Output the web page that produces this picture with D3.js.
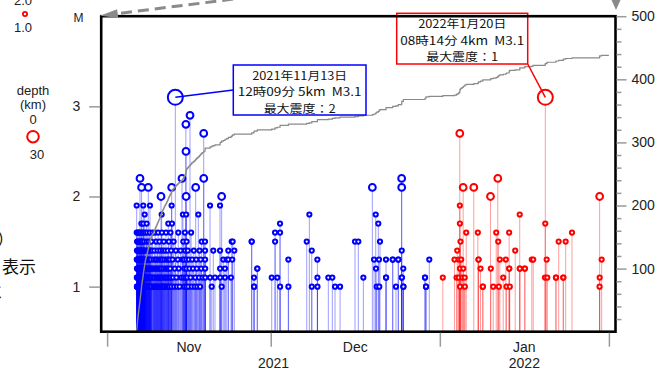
<!DOCTYPE html>
<html>
<head>
<meta charset="utf-8">
<script src="https://cdn.jsdelivr.net/npm/d3@7"></script>
<style>
  body { margin: 0; background: #fff; }
  svg { display: block; font-family: "Liberation Sans", Arial, sans-serif; }
</style>
</head>
<body>
<svg id="chart" width="661" height="370"></svg>
<script>
// Earthquake list: [day of month (decimal, local time), magnitude]
const novEvents = [
  [6.42,1.9],[6.43,1.6],[6.44,1.3],[6.45,1.1],[6.46,1.0],[6.47,1.4],[6.48,1.2],[6.49,1.5],[6.50,1.0],[6.51,1.1],
  [6.52,1.3],[6.53,1.2],[6.54,1.0],[6.55,1.6],[6.56,1.4],[6.57,1.1],[6.58,1.0],[6.59,1.2],[6.60,1.3],[6.62,1.0],
  [6.63,1.5],[6.64,1.1],[6.66,1.2],[6.67,1.0],[6.68,1.4],[6.70,1.1],[6.71,1.3],[6.72,1.0],[6.74,1.2],[6.75,1.6],
  [6.76,1.1],[6.78,1.0],[6.79,1.3],[6.80,1.2],[6.82,1.5],[6.83,1.0],[6.85,1.1],[6.86,1.4],[6.88,1.2],[6.89,1.0],
  [6.91,1.3],[6.92,1.1],[6.94,1.6],[6.95,1.0],[6.97,1.2],[6.98,1.4],[7.00,1.1],[7.01,1.0],[7.03,2.2],[7.04,1.3],
  [7.05,1.5],[7.06,1.2],[7.08,1.0],[7.09,1.1],[7.10,1.4],[7.12,1.3],[7.13,1.0],[7.14,1.6],[7.16,1.2],[7.17,1.1],
  [7.18,1.0],[7.20,1.5],[7.21,1.3],[7.22,1.2],[7.24,1.0],[7.25,1.4],[7.26,1.1],[7.28,1.7],[7.29,1.2],[7.30,1.0],
  [7.31,1.3],[7.32,2.1],[7.33,1.1],[7.34,1.5],
  [7.36,1.2],[7.38,1.0],[7.40,1.4],[7.41,1.1],[7.43,1.3],[7.45,1.6],[7.46,1.0],[7.48,1.2],[7.50,1.1],[7.52,1.5],
  [7.53,1.0],[7.55,1.3],[7.57,1.2],[7.58,1.4],[7.60,1.0],[7.62,1.1],[7.63,1.9],[7.64,1.7],[7.65,1.3],[7.67,1.0],
  [7.69,1.2],[7.70,1.6],[7.72,1.1],[7.74,1.4],[7.76,1.0],[7.78,1.3],[7.80,1.2],[7.81,1.5],[7.83,1.0],[7.85,1.1],
  [7.87,1.3],[7.89,1.8],[7.90,1.2],[7.92,1.0],[7.94,1.4],[7.96,1.1],[7.98,1.6],[8.00,1.2],[8.02,1.0],[8.04,1.3],
  [8.06,1.1],
  [8.10,1.2],[8.13,1.0],[8.16,1.4],[8.19,1.1],[8.22,1.3],[8.25,1.7],[8.26,1.5],[8.29,1.0],[8.32,1.2],[8.35,1.6],
  [8.38,1.1],[8.41,1.3],[8.44,1.0],[8.47,1.4],[8.50,1.2],[8.53,1.1],[8.55,2.1],[8.58,1.0],[8.61,1.3],[8.64,1.5],
  [8.67,1.2],[8.70,1.0],[8.73,1.4],[8.76,1.1],[8.79,1.3],[8.82,1.6],[8.85,1.0],[8.86,1.9],[8.89,1.2],[8.92,1.1],
  [8.95,1.4],[8.98,1.0],[9.02,1.3],[9.06,1.2],[9.10,1.5],[9.14,1.1],[9.18,1.0],[9.23,1.4],[9.28,1.2],[9.34,1.6],
  [9.45,1.1],[9.50,1.3],[9.55,1.0],[9.60,1.2],[9.65,1.4],[9.70,1.1],[9.75,1.0],[9.80,1.6],[9.85,1.3],[9.90,1.2],
  [9.95,1.0],[10.00,1.5],[10.05,1.1],[10.10,1.3],[10.15,1.2],[10.20,1.0],[10.25,1.4],[10.30,1.1],[10.35,1.6],[10.40,1.2],
  [10.45,1.0],[10.50,1.3],[10.55,1.1],[10.60,1.5],[10.65,1.2],[10.70,1.0],[10.75,1.4],[10.80,1.1],[10.85,1.3],[10.88,2.0],
  [10.92,1.2],[10.96,1.0],[11.00,1.8],[11.04,1.6],[11.08,1.1],[11.12,1.3],[11.17,1.0],[11.22,1.4],
  [11.30,1.2],[11.35,1.0],[11.40,1.5],[11.45,1.1],[11.50,1.3],[11.56,1.0],[11.62,1.4],[11.68,1.2],[11.74,1.1],[11.80,1.6],
  [11.86,1.0],[11.92,1.3],[11.98,1.2],[12.04,1.1],[12.10,1.4],[12.16,1.0],[12.20,1.3],[12.22,1.7],[12.26,1.2],[12.32,1.5],
  [12.38,1.1],[12.44,1.0],[12.50,1.3],[12.56,1.2],[12.62,1.6],[12.68,1.1],[12.74,1.4],[12.80,1.0],[12.83,1.9],[12.84,2.1],
  [12.90,1.7],[13.00,1.3],[13.10,1.1],[13.20,1.5],[13.30,1.0],[13.40,1.2],[13.506,3.1],[13.60,1.4],[13.70,1.1],[13.80,1.0],
  [13.95,1.3],[14.05,1.6],[14.15,1.2],[14.30,1.0],[14.45,1.4],[14.60,1.1],[14.73,2.2],[14.80,1.3],[14.90,1.8],
  [14.97,1.5],[15.02,1.1],[15.08,1.3],[15.14,1.0],[15.20,1.2],[15.26,1.6],[15.32,1.4],[15.38,1.1],[15.44,2.8],[15.46,2.5],
  [15.48,2.0],[15.50,1.8],[15.52,1.0],[15.54,1.3],[15.56,1.2],[15.58,1.5],
  [15.70,1.1],[15.80,1.4],[15.90,1.0],[16.00,1.3],[16.10,1.2],[16.20,2.9],[16.30,1.1],[16.40,1.6],[16.51,1.0],[16.60,1.3],
  [16.75,1.2],[16.90,1.4],[17.05,1.0],[17.15,1.1],[17.24,2.1],[17.35,1.3],[17.45,1.2],[17.55,1.0],[17.72,1.8],[17.85,1.1],
  [17.95,1.4],[18.05,1.0],[18.15,1.3],[18.25,1.2],[18.34,1.5],[18.50,1.1],
  [18.71,2.7],[18.72,2.2],[18.95,1.5],[18.96,1.4],[18.97,1.3],[18.98,1.2],[18.99,1.1],[19.87,1.9],[19.88,1.1],[20.18,1.0],
  [20.47,1.4],[20.78,1.1],[21.70,1.9],[21.71,1.4],[21.72,1.2],[21.73,1.1],
  [22.00,2.0],[22.01,1.0],[22.30,1.3],[22.61,1.2],[22.62,1.1],[22.93,1.3],[23.22,1.4],[23.23,1.3],[23.71,1.1],[23.84,1.5],
  [23.95,1.3],[24.02,1.5],[24.32,1.4],
  [27.50,1.5],[27.52,1.5],[27.93,1.1],[27.94,1.0],[27.95,1.0],[28.53,1.2],[28.54,1.2]
];
const decEvents = [
  [1.18,1.1],[1.79,1.6],[1.80,1.5],[2.21,1.1],[2.70,1.7],[2.71,1.6],[2.72,1.0],[4.23,1.3],[4.24,1.0],[7.60,1.5],
  [8.08,1.8],[8.52,1.4],[8.53,1.0],[9.55,1.3],[9.56,1.1],[9.57,1.0],[11.56,1.1],[12.29,1.1],[12.79,1.0],[13.71,1.0],
  [16.45,1.5],[17.06,1.5],[17.98,1.1],[19.63,2.1],[19.94,1.3],[20.25,1.8],[20.30,1.2],[20.43,1.0],[20.72,1.7],[20.85,1.3],
  [20.90,1.0],[21.03,1.5],[22.13,1.3],[22.14,1.1],[22.15,1.1],[23.36,1.3],[23.37,1.3],[23.96,1.0],[24.38,1.3],[24.39,1.3],
  [25.00,2.2],[25.01,2.1],[25.02,1.4],[25.03,1.1],[25.04,1.1],[25.30,1.2],[25.31,1.0],[25.32,1.0],[29.28,1.1],[29.29,1.1],
  [29.46,1.0],[29.47,1.0],[30.07,1.3]
];
const janEvents = [
  [1.55,1.1],[3.69,1.3],[4.06,1.1],[4.19,1.4],[4.47,1.3],[4.49,1.1],[4.66,2.7],[4.67,1.9],[4.68,1.7],[4.69,1.2],
  [4.70,1.0],[4.79,1.5],[4.92,1.3],[5.11,1.1],[5.28,2.1],[5.30,1.2],[5.57,1.1],[5.59,1.0],[5.84,1.6],[7.23,2.1],
  [7.97,1.6],[8.09,1.3],[8.10,1.3],[8.46,1.2],[8.88,1.0],[8.89,1.0],[10.29,2.0],[10.35,1.2],[10.79,1.0],[11.34,1.6],
  [11.63,2.2],[11.71,1.5],[11.82,1.0],[12.00,1.3],[12.62,1.1],[13.10,1.3],[13.23,1.0],[13.71,1.6],[13.72,1.2],[13.73,1.2],
  [13.83,1.0],[14.82,1.4],[15.65,1.8],[15.66,1.2],[15.67,1.2],[16.58,1.2],[16.59,1.2],[17.86,1.3],[18.12,1.3],[20.28,1.1],
  [20.33,1.7],[20.343,3.1],[20.59,1.3],[20.70,1.1],[22.29,1.1],[22.30,1.1],[22.79,1.5],[23.63,1.1],[23.64,1.1],[24.07,1.5],
  [25.23,1.6],[30.29,1.0],[30.30,2.0],[30.31,1.1],[30.67,1.3]
];

const monthLabels = ["Nov", "Dec", "Jan"];
const yearLabels = ["2021", "2022"];
const magTicks = [1, 2, 3];
const countTicks = [100, 200, 300, 400, 500];

const callouts = [
  { year: 2021, month: 10, day: 13, lines: ["2021年11月13日", "12時09分 5km  M3.1", "最大震度：2"] },
  { year: 2022, month: 0, day: 20, lines: ["2022年1月20日", "08時14分 4km  M3.1", "最大震度：1"] }
];

const svg = d3.select("#chart");
const plot = { left: 101.2, right: 615.5, top: 16.2, bottom: 331.7 };
const BLUE = "#0000ff", RED = "#ff0000", AXIS_GRAY = "#9a9a9a";

const x = d3.scaleTime()
  .domain([new Date(2021, 9, 30, 22), new Date(2022, 1, 2, 5)])
  .range([plot.left, plot.right]);
const yM = d3.scaleLinear().domain([0.5, 4]).range([plot.bottom, plot.top]);
const yC = d3.scaleLinear().domain([0, 500]).range([plot.bottom, plot.top]);
const radius = m => m >= 3 ? 7.5 : m >= 2 ? 3.4 : 2.1;

const toEvents = (list, year, month) => list.map(([day, mag]) => ({
  date: new Date(new Date(year, month, 1).getTime() + (day - 1) * 864e5), mag
}));
const events = [
  ...toEvents(novEvents, 2021, 10),
  ...toEvents(decEvents, 2021, 11),
  ...toEvents(janEvents, 2022, 0)
].sort((a, b) => a.date - b.date);

const recentStart = new Date(2022, 0, 1);
const periodEnd = new Date(2022, 1, 1);
const colorOf = d => d.date >= recentStart ? RED : BLUE;

// stems
svg.append("g").selectAll("line").data(events).join("line")
  .attr("x1", d => x(d.date)).attr("x2", d => x(d.date))
  .attr("y1", plot.bottom).attr("y2", d => yM(d.mag))
  .attr("stroke", colorOf).attr("stroke-opacity", 0.38).attr("stroke-width", 1);

// circles, larger on top
svg.append("g").selectAll("circle")
  .data(events.slice().sort((a, b) => a.mag - b.mag)).join("circle")
  .attr("cx", d => x(d.date)).attr("cy", d => yM(d.mag))
  .attr("r", d => radius(d.mag))
  .attr("fill", "#fff").attr("stroke", colorOf).attr("stroke-width", 2);

// cumulative count
const cum = [{ date: events[0].date, n: 0 }];
events.forEach((d, i) => cum.push({ date: d.date, n: i + 1 }));
cum.push({ date: periodEnd, n: events.length });
svg.append("path").datum(cum)
  .attr("d", d3.line().x(d => x(d.date)).y(d => yC(d.n)).curve(d3.curveStepAfter))
  .attr("fill", "none").attr("stroke", "#8a8a8a").attr("stroke-width", 1.2);

// callouts
const boxes = [
  { rect: [233.3, 65, 132.7, 50], anchor: [233.3, 90] },
  { rect: [396.7, 13.3, 131, 50.7], anchor: [527.7, 64] }
];
// fixed-pitch width: full-width glyphs 13px, half-width 7px
const lineWidth = str => d3.sum([...str], ch => /[\u3000-\u9fff\uff00-\uffef]/.test(ch) ? 13 : 7);
callouts.forEach((c, i) => {
  const ev = events.find(e => e.mag >= 3 && e.date.getFullYear() === c.year &&
    e.date.getMonth() === c.month && e.date.getDate() === c.day);
  const col = colorOf(ev);
  const b = boxes[i];
  const g = svg.append("g");
  g.append("line")
    .attr("x1", x(ev.date)).attr("y1", yM(ev.mag))
    .attr("x2", b.anchor[0]).attr("y2", b.anchor[1])
    .attr("stroke", col).attr("stroke-width", 1.5);
  g.append("rect")
    .attr("x", b.rect[0]).attr("y", b.rect[1]).attr("width", b.rect[2]).attr("height", b.rect[3])
    .attr("fill", "#fff").attr("stroke", col).attr("stroke-width", 1.5);
  const cx = b.rect[0] + b.rect[2] / 2;
  c.lines.forEach((str, k) => {
    g.append("text")
      .attr("x", cx)
      .attr("y", b.rect[1] + 14.6 + k * 16.6)
      .attr("text-anchor", "middle")
      .attr("textLength", lineWidth(str))
      .attr("lengthAdjust", "spacingAndGlyphs")
      .attr("xml:space", "preserve")
      .style("white-space", "pre")
      .style("font-family", '"Noto Sans CJK JP", sans-serif')
      .style("font-size", "11.4px").attr("fill", "#111")
      .text(str);
  });
});

// frame
svg.append("rect")
  .attr("x", plot.left).attr("y", plot.top)
  .attr("width", plot.right - plot.left).attr("height", plot.bottom - plot.top)
  .attr("fill", "none").attr("stroke", "#000").attr("stroke-width", 2.6);

// axes
function styleAxis(g, fontSize) {
  g.select(".domain").remove();
  g.selectAll(".tick line").attr("stroke", AXIS_GRAY).attr("stroke-width", 1.5);
  g.selectAll(".tick text").attr("fill", "#222")
    .style("font-family", '"Liberation Sans", Arial, sans-serif').style("font-size", fontSize);
}
const leftAxis = svg.append("g").attr("transform", `translate(${plot.left - 1},0)`)
  .call(d3.axisLeft(yM).tickValues(magTicks).tickFormat(d3.format("d")).tickSize(11).tickPadding(9));
styleAxis(leftAxis, "14px");
svg.append("text").attr("x", 78.5).attr("y", 22).attr("text-anchor", "middle")
  .style("font-size", "12px").attr("fill", "#222").text("M");

const minorCounts = d3.range(20, 500, 20).filter(v => v % 100 !== 0);
const rightMinor = svg.append("g").attr("transform", `translate(${plot.right + 1},0)`)
  .call(d3.axisRight(yC).tickValues(minorCounts).tickSize(5).tickFormat(""));
styleAxis(rightMinor, "14px");
const rightAxis = svg.append("g").attr("transform", `translate(${plot.right + 1},0)`)
  .call(d3.axisRight(yC).tickValues(countTicks).tickSize(10).tickPadding(5));
styleAxis(rightAxis, "14px");

const monthStarts = [new Date(2021, 10, 1), new Date(2021, 11, 1), new Date(2022, 0, 1), new Date(2022, 1, 1)];
const bottomAxis = svg.append("g").attr("transform", `translate(0,${plot.bottom + 1})`)
  .call(d3.axisBottom(x).tickValues(monthStarts).tickSize(14).tickFormat(""));
styleAxis(bottomAxis, "14px");

const mid = (a, b) => (x(a) + x(b)) / 2;
svg.append("g").selectAll("text").data(monthLabels).join("text")
  .attr("x", (d, i) => mid(monthStarts[i], monthStarts[i + 1]))
  .attr("y", 351.5).attr("text-anchor", "middle")
  .style("font-size", "14px").attr("fill", "#222").text(d => d);
const yearSpans = [[monthStarts[0], monthStarts[2]], [monthStarts[2], monthStarts[3]]];
svg.append("g").selectAll("text").data(yearLabels).join("text")
  .attr("x", (d, i) => mid(yearSpans[i][0], yearSpans[i][1]))
  .attr("y", 367.5).attr("text-anchor", "middle")
  .style("font-size", "14px").attr("fill", "#222").text(d => d);

// pointer arrows at the top edge
svg.append("path").attr("d", "M250,-3 L118,13.6")
  .attr("stroke", "#8a8a8a").attr("stroke-width", 3).attr("stroke-dasharray", "11,6").attr("fill", "none");
svg.append("polygon").attr("points", "100,15.8 118.3,18.1 117.1,9.2").attr("fill", "#8a8a8a");
svg.append("polygon").attr("points", "611.5,0 620.5,0 616,10").attr("fill", "#8a8a8a");

// legend (left margin)
const lg = svg.append("g").attr("fill", "#222").style("font-size", "13px");
lg.append("text").attr("x", 23).attr("y", 5).attr("text-anchor", "middle").text("2.0");
lg.append("circle").attr("cx", 25).attr("cy", 14).attr("r", 2.1)
  .attr("fill", "#fff").attr("stroke", RED).attr("stroke-width", 1.8);
lg.append("text").attr("x", 23).attr("y", 31.5).attr("text-anchor", "middle").text("1.0");
lg.append("text").attr("x", 33).attr("y", 94.5).attr("text-anchor", "middle").text("depth");
lg.append("text").attr("x", 33).attr("y", 109).attr("text-anchor", "middle").text("(km)");
lg.append("text").attr("x", 33).attr("y", 123.5).attr("text-anchor", "middle").text("0");
lg.append("circle").attr("cx", 33).attr("cy", 136.7).attr("r", 5.8)
  .attr("fill", "#fff").attr("stroke", RED).attr("stroke-width", 2);
lg.append("text").attr("x", 37).attr("y", 159.3).attr("text-anchor", "middle").text("30");
const cjk = svg.append("g").attr("fill", "#111")
  .style("font-family", '"Noto Sans CJK JP", sans-serif').style("font-size", "17px");
cjk.append("text").attr("x", -3).attr("y", 246).text("）");
cjk.append("text").attr("x", 2).attr("y", 273).text("表示");
cjk.append("text").attr("x", -14.5).attr("y", 298).text("に");
</script>
</body>
</html>
